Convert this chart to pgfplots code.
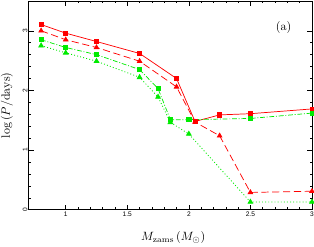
\documentclass[border=0pt]{standalone}
\usepackage{fontspec}
\usepackage{pgfplots}
\pgfplotsset{compat=1.18}
\usetikzlibrary{calc}
\newfontfamily\tickfont{Liberation Sans}
\definecolor{myred}{RGB}{255,0,0}
\definecolor{mygreen}{RGB}{0,235,0}
\begin{document}
\begin{tikzpicture}
\begin{axis}[
  scale only axis,
  width=236pt, height=174pt,
  xmin=0.7, xmax=3.0, ymin=0, ymax=3.5,
  xtick={1,1.5,2,2.5,3}, xticklabels={1,1.5,2,2.5,3},
  ytick={0,1,2,3}, yticklabels={0,1,2,3},
  minor x tick num=4, minor y tick num=4,
  tick align=inside, tick pos=both,
  major tick length=4pt, minor tick length=2pt,
  tick style={black, line width=0.4pt},
  axis line style={line width=0.5pt},
  /pgf/number format/assume math mode=true,
  ticklabel style={font=\tickfont\fontsize{5.5}{6}\selectfont},
  yticklabel style={rotate=90, anchor=south, inner sep=1pt},
  xticklabel style={inner sep=2pt},
  xlabel={$M_{\rm zams}\,(M_\odot)$},
  ylabel={$\log\,(P/\mathrm{days})$},
  xlabel style={at={(axis description cs:0.51,-0.134)}, anchor=center},
  ylabel style={at={(axis description cs:-0.077,0.5)}, anchor=center},
  label style={font=\fontsize{10}{12}\selectfont},
  clip=false,
]
\addplot[myred, solid, line width=0.6pt, mark=square*, mark size=1.7pt, mark options={solid}]
coordinates {(0.8,3.105) (1.0,2.96) (1.25,2.82) (1.6,2.62) (1.9,2.2) (2.05,1.48) (2.25,1.59) (2.5,1.61) (3.0,1.69)};
\addplot[myred, dash pattern=on 6pt off 3pt, line width=0.6pt, mark=triangle*, mark size=2.2pt, mark options={solid}]
coordinates {(0.8,3.0) (1.0,2.85) (1.25,2.72) (1.6,2.49) (1.9,2.06) (2.05,1.47) (2.25,1.24) (2.5,0.29) (3.0,0.31)};
\addplot[mygreen, dash pattern=on 4pt off 1.5pt on 0.8pt off 1.5pt, line width=0.6pt, mark=square*, mark size=1.7pt, mark options={solid}]
coordinates {(0.8,2.85) (1.0,2.72) (1.25,2.6) (1.6,2.35) (1.75,2.03) (1.85,1.51) (2.0,1.51) (2.5,1.53) (3.0,1.62)};
\addplot[mygreen, dash pattern=on 0.8pt off 1.8pt, line width=0.7pt, mark=triangle*, mark size=2.2pt, mark options={solid}]
coordinates {(0.8,2.75) (1.0,2.63) (1.25,2.49) (1.6,2.22) (1.75,1.89) (1.85,1.465) (2.0,1.27) (2.5,0.13) (3.0,0.13)};
\node[font=\fontsize{10}{12}\selectfont] at (axis cs:2.77,3.055) {(a)};
\end{axis}
\pgfresetboundingbox
\path ($(current axis.south west)+(-24pt,-31pt)$) rectangle ($(current axis.north east)+(1.7pt,0.8pt)$);
\end{tikzpicture}
\end{document}
